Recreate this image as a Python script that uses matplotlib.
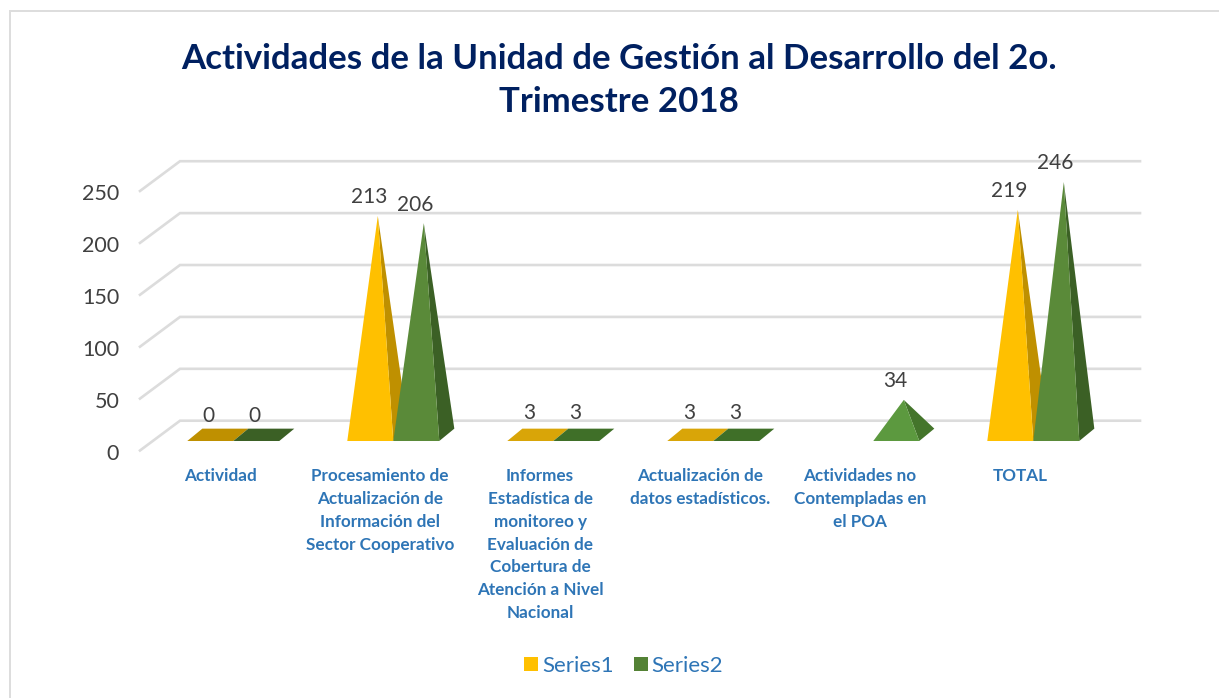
import matplotlib
matplotlib.use("Agg")
import matplotlib.pyplot as plt
from matplotlib.lines import Line2D
from matplotlib.patches import Patch, Polygon
from matplotlib.transforms import ScaledTranslation

plt.rcParams['font.family'] = ['Lato', 'DejaVu Sans']

TITLE = "Actividades de la Unidad de Gestión al Desarrollo del 2o.\nTrimestre 2018"
categories = [
    "Actividad",
    "Procesamiento de\nActualización de\nInformación del\nSector Cooperativo",
    "Informes\nEstadística de\nmonitoreo y\nEvaluación de\nCobertura de\nAtención a Nivel\nNacional",
    "Actualización de\ndatos estadísticos.",
    "Actividades no\nContempladas en\nel POA",
    "TOTAL",
]
series1 = [0, 213, 3, 3, None, 219]
series2 = [0, 206, 3, 3, 34, 246]
yticks = [0, 50, 100, 150, 200, 250]
series_names = ["Series1", "Series2"]
light = ["#FFC000", "#5A8A39"]
dark = ["#BF9000", "#3B6025"]
flat = ["#D9A508", "#3F6F28"]
short_light = ["#FFC000", "#5C993F"]
short_dark = ["#BF9000", "#44752B"]

W, H = 1219, 698
fig = plt.figure(figsize=(W / 100, H / 100), dpi=100, facecolor="white")
L, R, T, B = 140, 1100, 191, 450.5
ax = fig.add_axes([L / W, 1 - B / H, (R - L) / W, (B - T) / H])
ax.set_xlim(-0.5, 5.5)
ax.set_ylim(0, 250)
ax.patch.set_visible(False)
for s in ax.spines.values():
    s.set_visible(False)

# 3-D projection offsets, in data units
WALL_DX, WALL_DY = 0.25, 28.7
BAR_W = 0.2875
FRONT_DX, FRONT_DY = 0.083, 9.15
DEPTH_DX, DEPTH_DY = 0.094, 11.9
HEIGHT_K = 0.99

# gridlines with side wall
for v in yticks:
    ax.plot([-0.5, -0.5 + WALL_DX, 5.5 + WALL_DX], [v, v + WALL_DY, v + WALL_DY],
            color="#DCDCDC", lw=1.9, clip_on=False, zorder=1, solid_joinstyle="miter")


def face(points, color, z):
    ax.add_patch(Polygon(points, closed=True, fc=color, ec="none", clip_on=False, zorder=z))


def pyramid(i, v, idx):
    x0 = i + FRONT_DX + (0 if idx else -BAR_W)
    x1 = x0 + BAR_W
    y0 = FRONT_DY
    FL, FR = (x0, y0), (x1, y0)
    BR = (x1 + DEPTH_DX, y0 + DEPTH_DY)
    BL = (x0 + DEPTH_DX, y0 + DEPTH_DY)
    apex = ((x0 + x1 + DEPTH_DX) / 2, y0 + DEPTH_DY / 2 + HEIGHT_K * v)
    z = 3 + idx * 0.1 + i
    if v == 0:
        face([FL, FR, BR, BL], dark[idx], z)
    elif apex[1] < BR[1]:
        # nearly flat: all faces look up, one shade
        face([FL, FR, BR, BL], flat[idx], z)
    else:
        c = short_light[idx] if v < 100 else light[idx]
        d = short_dark[idx] if v < 100 else dark[idx]
        face([FR, BR, apex], d, z)
        face([FL, FR, apex], c, z)
    ax.annotate(str(v), xy=((x0 + x1) / 2, apex[1]), xytext=(-1, 13.4), textcoords="offset points",
                ha="center", va="center", fontsize=15, color="#404040", zorder=20,
                annotation_clip=False)


for idx, vals in enumerate([series1, series2]):
    for i, v in enumerate(vals):
        if v is not None:
            pyramid(i, v, idx)

ax.set_yticks(yticks)
ax.set_yticklabels([str(v) for v in yticks], fontsize=15.5, color="#404040")
ax.tick_params(axis="y", length=0, pad=15)
for lbl in ax.get_yticklabels():
    lbl.set_transform(lbl.get_transform() + ScaledTranslation(0, -1.2 / 100, fig.dpi_scale_trans))
ax.set_xticks(range(len(categories)))
ax.set_xticklabels(categories, fontsize=12.3, fontweight="bold", color="#2E75B6",
                   linespacing=1.53, ha="center", va="top")
ax.tick_params(axis="x", length=0, pad=12.5)

fig.text(619 / W, 1 - 80.5 / H, TITLE, ha="center", va="center", fontsize=25.1, fontweight="bold",
         color="#002060", linespacing=1.44)

handles = [Patch(fc=light[0], ec="none"), Patch(fc="#548235", ec="none")]
fig.legend(handles, series_names, loc="center", bbox_to_anchor=(623.5 / W, 1 - 666 / H), ncol=2,
           frameon=False, fontsize=16, labelcolor="#2E75B6", handlelength=0.63, handleheight=0.63,
           handletextpad=0.18, columnspacing=0.9)

# chart frame: only the top and left edges are inside the picture
fig.add_artist(Line2D([9.5 / W, 1], [1 - 10.5 / H, 1 - 10.5 / H], transform=fig.transFigure,
                      color="#DDDDDD", lw=1.4))
fig.add_artist(Line2D([9.5 / W, 9.5 / W], [0, 1 - 10.5 / H], transform=fig.transFigure,
                      color="#DDDDDD", lw=1.4))

fig.savefig("out.png", dpi=100, facecolor="white")
